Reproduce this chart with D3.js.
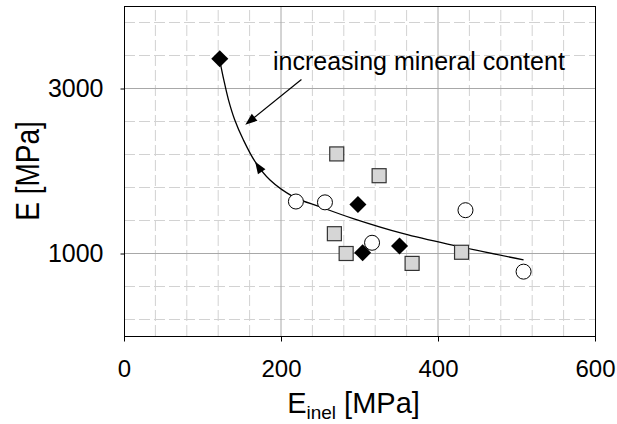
<!DOCTYPE html>
<html>
<head>
<meta charset="utf-8">
<script src="https://cdn.jsdelivr.net/npm/d3@7"></script>
<style>
  body { margin: 0; background: #fff; }
  svg { display: block; font-family: "Liberation Sans", Arial, Helvetica, sans-serif; }
</style>
</head>
<body>
<script>
// data
var diamondX = [122, 298, 304, 351];
var diamondY = [3360, 1594, 1010, 1090];

var squareX = [271, 325, 268, 283, 367, 430];
var squareY = [2207, 1943, 1240, 1000, 880, 1015];

var circleX = [219, 256, 316, 435, 509];
var circleY = [1630, 1620, 1130, 1525, 780];

// hand drawn trend curve
var curveX = [123, 127, 133, 141, 152, 167, 186, 216, 250, 292, 356, 420, 509];
var curveY = [3293, 3110, 2866, 2622, 2378, 2113, 1890, 1687, 1565, 1423, 1240, 1098, 923];

var xTicks = [0, 200, 400, 600];
var yTicks = [1000, 3000];
var xMinor = [40, 80, 120, 160, 240, 280, 320, 360, 440, 480, 520, 560];
var yMinor = [200, 600, 1400, 1800, 2200, 2600, 3400, 3800];

var label = "increasing mineral content";

//Define Margin
var margin = {left: 124, right: 22, top: 6, bottom: 88},
    W = 617, H = 424,
    width = W - margin.left - margin.right,
    height = H - margin.top - margin.bottom;

var svg = d3.select("body").append("svg")
    .attr("width", W)
    .attr("height", H);

var x = d3.scaleLinear().domain([0, 600]).range([margin.left, margin.left + width]);
var y = d3.scaleLinear().domain([0, 4000]).range([margin.top + height, margin.top]);

var grid = svg.append("g");

// minor dashed grid
grid.selectAll(".vmin").data(xMinor).enter().append("line")
    .attr("x1", d => x(d)).attr("x2", d => x(d))
    .attr("y1", y(0)).attr("y2", y(4000))
    .attr("stroke", "#d2d2d2").attr("stroke-dasharray", "11,4");
grid.selectAll(".hmin").data(yMinor).enter().append("line")
    .attr("x1", x(0)).attr("x2", x(600))
    .attr("y1", d => y(d)).attr("y2", d => y(d))
    .attr("stroke", "#d2d2d2").attr("stroke-dasharray", "11,4");

// major solid grid
grid.selectAll(".vmaj").data(xTicks.slice(1, -1)).enter().append("line")
    .attr("x1", d => x(d)).attr("x2", d => x(d))
    .attr("y1", y(0)).attr("y2", y(4000))
    .attr("stroke", "#a8a8a8");
grid.selectAll(".hmaj").data(yTicks).enter().append("line")
    .attr("x1", x(0)).attr("x2", x(600))
    .attr("y1", d => y(d)).attr("y2", d => y(d))
    .attr("stroke", "#a8a8a8");

// border
svg.append("rect")
    .attr("x", x(0) + 0.5).attr("y", y(4000) + 0.5)
    .attr("width", x(600) - x(0)).attr("height", y(0) - y(4000))
    .attr("fill", "none").attr("stroke", "#000");

// axes
var gx = svg.append("g")
    .attr("transform", "translate(0," + (y(0) + 0.5) + ")")
    .call(d3.axisBottom(x).tickValues(xTicks).tickSize(5).tickPadding(18).tickFormat(d3.format("d")));
gx.select(".domain").remove();
gx.selectAll("text").attr("font-size", 24).attr("fill", "#000").attr("font-family", null);

var gy = svg.append("g")
    .attr("transform", "translate(" + (x(0) + 0.5) + ",0)")
    .call(d3.axisLeft(y).tickValues(yTicks).tickSize(4).tickPadding(17).tickFormat(d3.format("d")));
gy.select(".domain").remove();
gy.selectAll("text").attr("font-size", 25).attr("fill", "#000").attr("font-family", null);

// axis titles
var xt = svg.append("text")
    .attr("x", x(300) - 6).attr("y", 413)
    .attr("text-anchor", "middle")
    .attr("font-size", 29);
xt.append("tspan").text("E");
xt.append("tspan").attr("font-size", 19).attr("dy", 6).text("inel");
xt.append("tspan").attr("dy", -6).text(" [MPa]");

svg.append("text")
    .attr("transform", "translate(39," + y(2000) + ") rotate(-90) scale(1,1.2)")
    .attr("text-anchor", "middle")
    .attr("font-size", 28)
    .text("E [MPa]");

// trend curve with arrow
var line = d3.line()
    .x(d => x(d[0])).y(d => y(d[1]))
    .curve(d3.curveCatmullRom);
var pts = curveX.map((d, i) => [d, curveY[i]]);
var curve = svg.append("path")
    .attr("d", line(pts))
    .attr("fill", "none").attr("stroke", "#000").attr("stroke-width", 1.3);

function arrowHead(tx, ty, ang, len, wid) {
    var c = Math.cos(ang), s = Math.sin(ang);
    var bx = tx - c * len, by = ty - s * len;
    return [[tx, ty], [bx - s * wid / 2, by + c * wid / 2], [bx + s * wid / 2, by - c * wid / 2]];
}

// find point on curve near the arrow position, head points back toward the top
var node = curve.node(), L = node.getTotalLength();
var target = [x(167), y(2113)], best = 0, bd = 1e9;
for (var l = 0; l <= L; l += 0.5) {
    var p = node.getPointAtLength(l);
    var dd = (p.x - target[0]) ** 2 + (p.y - target[1]) ** 2;
    if (dd < bd) { bd = dd; best = l; }
}
var p0 = node.getPointAtLength(best + 4), p1 = node.getPointAtLength(best - 4);
var ang = Math.atan2(p1.y - p0.y, p1.x - p0.x);
var tip = node.getPointAtLength(best);
svg.append("polygon")
    .attr("points", arrowHead(tip.x, tip.y, ang, 12, 9).map(d => d.join(",")).join(" "))
    .attr("fill", "#000");

// annotation arrow
var a0 = [x(226), y(3110)], a1 = [x(154.5), y(2561)];
var aang = Math.atan2(a1[1] - a0[1], a1[0] - a0[0]);
svg.append("line")
    .attr("x1", a0[0]).attr("y1", a0[1])
    .attr("x2", a1[0] - Math.cos(aang) * 8).attr("y2", a1[1] - Math.sin(aang) * 8)
    .attr("stroke", "#000").attr("stroke-width", 1.2);
svg.append("polygon")
    .attr("points", arrowHead(a1[0], a1[1], aang, 12, 9).map(d => d.join(",")).join(" "))
    .attr("fill", "#000");

svg.append("text")
    .attr("x", 273).attr("y", 69.5)
    .attr("font-size", 25)
    .text(label);

// markers
svg.selectAll(".sq").data(squareX).enter().append("rect")
    .attr("x", d => x(d) - 7).attr("y", (d, i) => y(squareY[i]) - 7)
    .attr("width", 14).attr("height", 14)
    .attr("fill", "#d6d6d6").attr("stroke", "#333").attr("stroke-width", 1.2);

svg.selectAll(".ci").data(circleX).enter().append("circle")
    .attr("cx", d => x(d)).attr("cy", (d, i) => y(circleY[i]))
    .attr("r", 7.5)
    .attr("fill", "#fff").attr("stroke", "#000").attr("stroke-width", 1);

svg.selectAll(".di").data(diamondX).enter().append("path")
    .attr("d", d3.symbol().type(d3.symbolDiamond2).size(185))
    .attr("transform", (d, i) => "translate(" + x(d) + "," + y(diamondY[i]) + ")")
    .attr("fill", "#000");
</script>
</body>
</html>
